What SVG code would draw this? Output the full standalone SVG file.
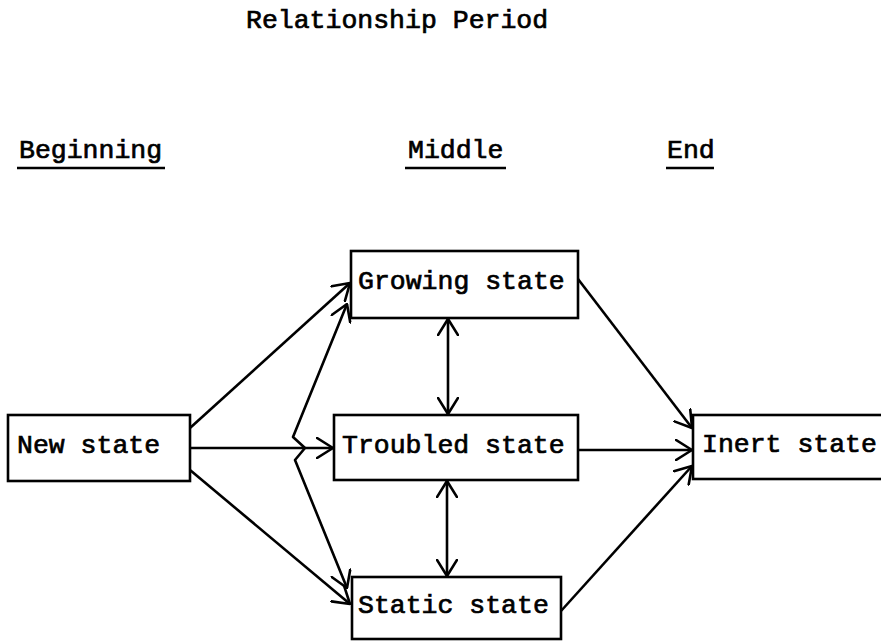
<svg xmlns="http://www.w3.org/2000/svg" width="881" height="642" viewBox="0 0 881 642">
  <style>
    .txt { font-family: "Liberation Mono", "Courier New", monospace; font-size: 26.5px; fill: #000; stroke: #000; stroke-width: 0.7px; }
    .box { fill: #fff; stroke: #000; stroke-width: 2.6; }
    .ul { stroke: #000; stroke-width: 2.6; }
    .link { fill: none; stroke: #000; stroke-width: 2.6; stroke-linejoin: round; }
  </style>
  <defs>
    <marker id="ah" viewBox="0 0 18 22" refX="17" refY="11" markerWidth="18" markerHeight="22" markerUnits="userSpaceOnUse" orient="auto-start-reverse">
      <path d="M1,1 L17,11 L1,21" fill="none" stroke="#000" stroke-width="2.6" stroke-linecap="round" stroke-linejoin="round"/>
    </marker>
  </defs>

  <rect width="881" height="642" fill="#fff"/>

  <!-- title and period headings -->
  <g id="title">
    <text class="txt" x="246" y="28">Relationship Period</text>
  </g>
  <g id="heading-beginning">
    <text class="txt" x="19" y="158">Beginning</text>
    <line class="ul" x1="17" y1="168" x2="165" y2="168"/>
  </g>
  <g id="heading-middle">
    <text class="txt" x="408" y="158">Middle</text>
    <line class="ul" x1="405" y1="168" x2="506" y2="168"/>
  </g>
  <g id="heading-end">
    <text class="txt" x="667" y="158">End</text>
    <line class="ul" x1="666" y1="168" x2="714" y2="168"/>
  </g>

  <!-- connectors -->
  <g id="connectors">
    <path class="link" d="M190,428 L350,283" marker-end="url(#ah)"/>
    <path class="link" d="M190,448 L333,448" marker-end="url(#ah)"/>
    <path class="link" d="M190,470 L350,604" marker-end="url(#ah)"/>
    <path class="link" d="M347,304 L293,437 L305,448 L295,460 L347,588" marker-start="url(#ah)" marker-end="url(#ah)"/>
    <path class="link" d="M448,319 L448,414" marker-start="url(#ah)" marker-end="url(#ah)"/>
    <path class="link" d="M447,481 L447,576" marker-start="url(#ah)" marker-end="url(#ah)"/>
    <path class="link" d="M578,279 L692,428" marker-end="url(#ah)"/>
    <path class="link" d="M578,450 L692,450" stroke-width="3.4" marker-end="url(#ah)"/>
    <path class="link" d="M561,611 L692,466" marker-end="url(#ah)"/>
  </g>

  <!-- state nodes -->
  <g id="new-state">
    <rect class="box" x="8" y="415" width="182" height="66"/>
    <text class="txt" x="17" y="453">New state</text>
  </g>
  <g id="growing-state">
    <rect class="box" x="351" y="251" width="227" height="67"/>
    <text class="txt" x="358" y="289">Growing state</text>
  </g>
  <g id="troubled-state">
    <rect class="box" x="334" y="415" width="244" height="65"/>
    <text class="txt" x="342" y="453">Troubled state</text>
  </g>
  <g id="static-state">
    <rect class="box" x="352" y="577" width="209" height="62"/>
    <text class="txt" x="358" y="613">Static state</text>
  </g>
  <g id="inert-state">
    <rect class="box" x="693" y="415" width="200" height="64"/>
    <text class="txt" x="702" y="452">Inert state</text>
  </g>
</svg>
